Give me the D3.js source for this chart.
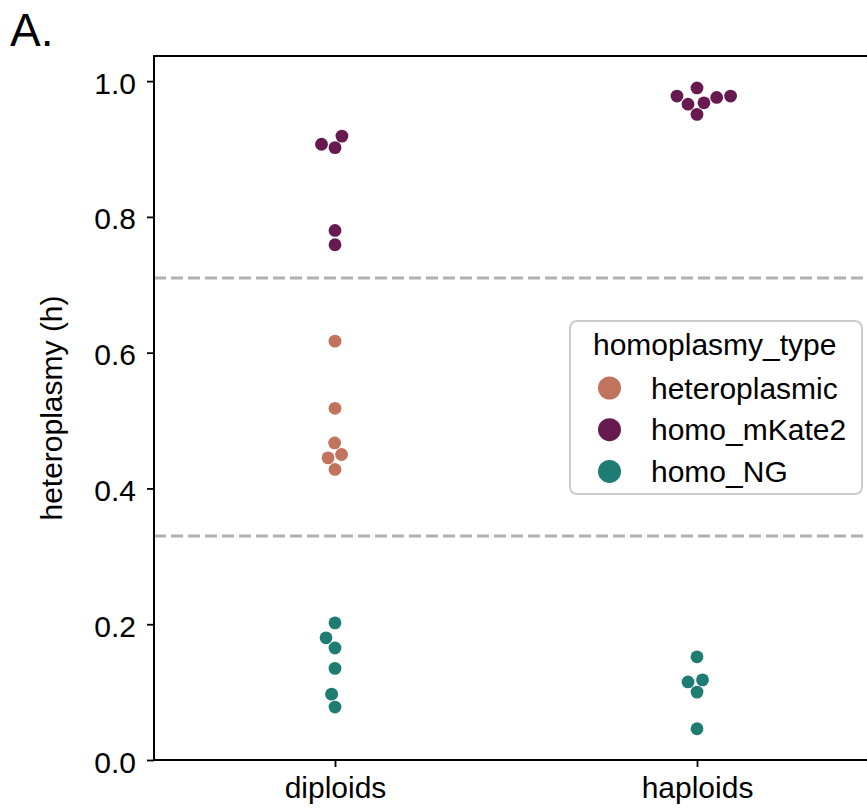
<!DOCTYPE html>
<html>
<head>
<meta charset="utf-8">
<script src="https://cdn.jsdelivr.net/npm/d3@7"></script>
<style>
  body { margin: 0; background: #fff; }
  text { font-family: "Liberation Sans", Arial, Helvetica, sans-serif; fill: #000; }
</style>
</head>
<body>
<div class="canvas"></div>
<script>
// data
const categories = ['diploids', 'haploids'];
const types = ['heteroplasmic', 'homo_mKate2', 'homo_NG'];
const colours = ['#c2735d', '#661a4f', '#1f7c72'];

const diploidHetero = [0.617, 0.518, 0.467, 0.445, 0.450, 0.428];
const diploidMKate = [0.919, 0.907, 0.902, 0.780, 0.759];
const diploidNG = [0.202, 0.180, 0.165, 0.135, 0.097, 0.078];
const haploidMKate = [0.990, 0.978, 0.978, 0.976, 0.968, 0.966, 0.951];
const haploidNG = [0.152, 0.118, 0.115, 0.100, 0.046];

const thresholds = [0.33, 0.71];
const yTicks = [0.0, 0.2, 0.4, 0.6, 0.8, 1.0];

const dims = { width: 867, height: 809 };
const margin = { left: 154, top: 56, right: 878, bottom: 760 };
const ptR = 6.4;
const fontSize = 30;

const rows = [];
const add = (cat, type, vals) => vals.forEach(v => rows.push({ cat, type, value: v }));
add('diploids', 'heteroplasmic', diploidHetero);
add('diploids', 'homo_mKate2', diploidMKate);
add('diploids', 'homo_NG', diploidNG);
add('haploids', 'homo_mKate2', haploidMKate);
add('haploids', 'homo_NG', haploidNG);

const svg = d3.select('.canvas')
    .append('svg')
    .attr('width', dims.width)
    .attr('height', dims.height);

const x = d3.scalePoint()
    .domain(categories)
    .range([margin.left, margin.right])
    .padding(0.5);

const y = d3.scaleLinear()
    .domain([0, 1.037])
    .range([margin.bottom, margin.top]);

const colour = d3.scaleOrdinal().domain(types).range(colours);

// threshold lines
svg.selectAll('line.thr')
    .data(thresholds)
    .enter().append('line')
    .attr('class', 'thr')
    .attr('x1', margin.left).attr('x2', margin.right)
    .attr('y1', d => y(d)).attr('y2', d => y(d))
    .attr('stroke', '#b0b0b0')
    .attr('stroke-width', 3)
    .attr('stroke-dasharray', '12,5');

// swarm layout (seaborn style) per category
const swarm = (pts, mid) => {
    pts.sort((a, b) => b.py - a.py);
    const placed = [];
    const d = 2 * ptR + 0.5;
    pts.forEach(p => {
        const nb = placed.filter(q => Math.abs(q.py - p.py) < d);
        const cands = [mid];
        let leftFirst = true;
        nb.forEach(q => {
            const dy = p.py - q.py;
            const dx = Math.sqrt(Math.max(d * d - dy * dy, 0)) * 1.05;
            if (leftFirst) cands.push(q.px - dx, q.px + dx);
            else cands.push(q.px + dx, q.px - dx);
            leftFirst = !leftFirst;
        });
        const order = cands.map((c, i) => i)
            .sort((a, b) => (Math.abs(cands[a] - mid) - Math.abs(cands[b] - mid)) || (a - b));
        let chosen = mid;
        for (const i of order) {
            const cx = cands[i];
            const ok = nb.every(q => (q.px - cx) ** 2 + (q.py - p.py) ** 2 >= d * d - 0.01);
            if (ok) { chosen = cx; break; }
        }
        p.px = chosen;
        placed.push(p);
    });
};

rows.forEach(r => { r.py = y(r.value); });
categories.forEach(c => swarm(rows.filter(r => r.cat === c), x(c)));

svg.selectAll('circle.pt')
    .data(rows)
    .enter().append('circle')
    .attr('class', 'pt')
    .attr('cx', d => d.px)
    .attr('cy', d => d.py)
    .attr('r', ptR)
    .attr('fill', d => colour(d.type));

// axes
const yAxis = d3.axisLeft(y)
    .tickValues(yTicks)
    .tickFormat(d3.format('.1f'))
    .tickSize(7)
    .tickPadding(11);

const yG = svg.append('g')
    .attr('transform', `translate(${margin.left},0)`)
    .call(yAxis);

const xAxis = d3.axisBottom(x)
    .tickSize(7)
    .tickPadding(7);

const xG = svg.append('g')
    .attr('transform', `translate(0,${margin.bottom})`)
    .call(xAxis);

[yG, xG].forEach(g => {
    g.select('.domain').remove();
    g.selectAll('.tick line').attr('stroke', '#000').attr('stroke-width', 1.8);
    g.selectAll('.tick text').attr('font-size', fontSize).attr('fill', '#000');
});
yG.selectAll('.tick text').attr('dy', '0.4em');
xG.selectAll('.tick text').attr('dy', '0.8em');

// spines
svg.append('path')
    .attr('d', `M${margin.right},${margin.top}H${margin.left}V${margin.bottom}H${margin.right}`)
    .attr('fill', 'none')
    .attr('stroke', '#000')
    .attr('stroke-width', 2);

// labels
svg.append('text')
    .attr('transform', `translate(51,${(margin.top + margin.bottom) / 2}) rotate(-90)`)
    .attr('text-anchor', 'middle')
    .attr('font-size', fontSize)
    .attr('dy', '0.35em')
    .text('heteroplasmy (h)');

svg.append('text')
    .attr('x', 10).attr('y', 46)
    .attr('font-size', 46)
    .text('A.');

// legend
const legendGroup = svg.append('g')
    .attr('transform', 'translate(570,321)');

legendGroup.append('rect')
    .attr('x', 0).attr('y', 0)
    .attr('width', 292).attr('height', 173)
    .attr('rx', 7)
    .attr('fill', '#fff')
    .attr('fill-opacity', 0.8)
    .attr('stroke', '#cccccc')
    .attr('stroke-width', 2);

legendGroup.append('text')
    .attr('x', 23).attr('y', 34)
    .attr('font-size', fontSize)
    .text('homoplasmy_type');

const items = legendGroup.selectAll('g.item')
    .data(types)
    .enter().append('g')
    .attr('class', 'item')
    .attr('transform', (d, i) => `translate(0,${67 + i * 41.7})`);

items.append('circle')
    .attr('cx', 39.5).attr('cy', 0)
    .attr('r', 11.5)
    .attr('fill', d => colour(d));

items.append('text')
    .attr('x', 81).attr('y', 0)
    .attr('dy', '0.35em')
    .attr('font-size', fontSize)
    .text(d => d);
</script>
</body>
</html>
